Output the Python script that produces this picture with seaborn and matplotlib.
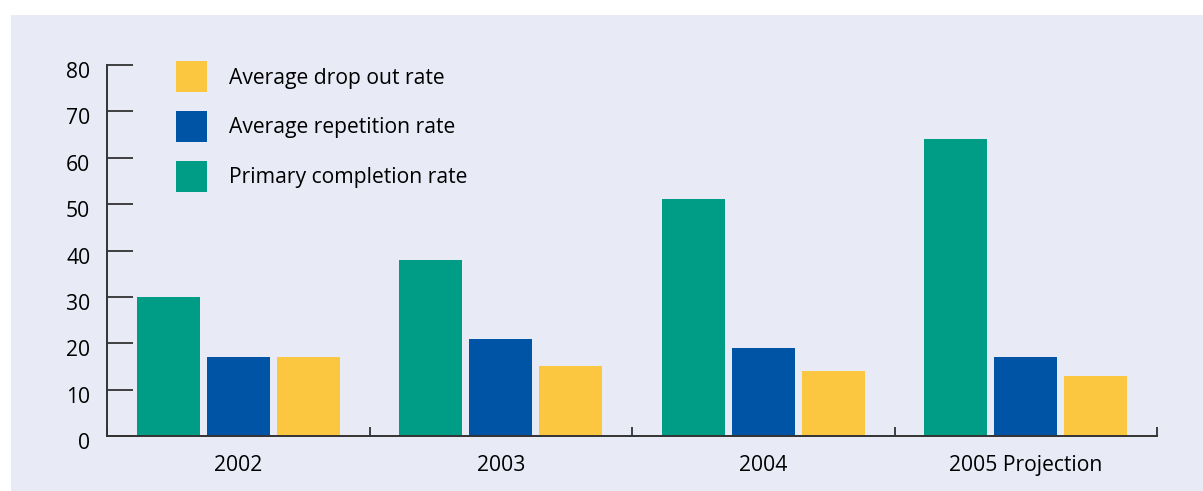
import pandas as pd
import matplotlib.pyplot as plt
import seaborn as sns
from matplotlib.patches import Rectangle, Patch
from matplotlib.ticker import FixedLocator
from matplotlib.transforms import ScaledTranslation

# Data
years = ["2002", "2003", "2004", "2005 Projection"]
completion = [30, 38, 51, 64]
repetition = [17, 21, 19, 17]
dropout = [17, 15, 14, 13]
series = ["Primary completion rate", "Average repetition rate", "Average drop out rate"]
colors = ["#009d86", "#0054a5", "#fbc640"]
BG = "#e8eaf6"

sns.set_theme(style="white")
plt.rcParams['font.family'] = ['Open Sans', 'DejaVu Sans']
plt.rcParams['text.color'] = "black"

df = pd.DataFrame({
    "Year": years * 3,
    "Rate": completion + repetition + dropout,
    "Series": [series[0]] * 4 + [series[1]] * 4 + [series[2]] * 4,
})

fig = plt.figure(figsize=(12.03, 4.91), dpi=100)
fig.patch.set_facecolor("white")
fig.patches.append(Rectangle((11 / 1203, 0), 1, 1 - 15 / 491, transform=fig.transFigure,
                             facecolor=BG, edgecolor="none", zorder=-10))

ax = fig.add_axes([107 / 1203, 55 / 491, 1050 / 1203, 371 / 491])
ax.set_facecolor(BG)
ax.patch.set_alpha(0)

sns.barplot(data=df, x="Year", y="Rate", hue="Series", hue_order=series,
            palette=colors, width=0.8, gap=0.1, ax=ax, legend=False, saturation=1,
            linewidth=0, edgecolor="none")

ax.set_xlim(-0.5, 3.5)
ax.set_ylim(0, 80)
ax.set_yticks(range(0, 81, 10))
ax.set_xlabel("")
ax.set_ylabel("")

for s in ["top", "right"]:
    ax.spines[s].set_visible(False)
for s in ["left", "bottom"]:
    ax.spines[s].set_color("#333333")
    ax.spines[s].set_linewidth(1.4)

ax.tick_params(axis="y", left=True, direction="in", length=19, width=1.2, color="#222222",
               labelsize=15.2, pad=12, labelcolor="black")
ax.tick_params(axis="x", which="major", bottom=False, length=0, labelsize=15.2, pad=14,
               labelcolor="black")
ax.xaxis.set_minor_locator(FixedLocator([-0.5, 0.5, 1.5, 2.5, 3.5]))
ax.tick_params(axis="x", which="minor", bottom=True, direction="in", length=6.5, width=1.2,
               color="#222222")

# y labels sit a little below their ticks in the original
shift = ScaledTranslation(0, -5 / 100, fig.dpi_scale_trans)
for lbl in ax.get_yticklabels():
    lbl.set_transform(lbl.get_transform() + shift)

handles = [Patch(facecolor=colors[i], edgecolor="none") for i in [2, 1, 0]]
labels = [series[i] for i in [2, 1, 0]]
ax.legend(handles, labels, loc="upper left", bbox_to_anchor=(0.0574, 1.033), frameon=False,
          fontsize=15.2, handlelength=1.47, handleheight=1.9, labelspacing=0.875,
          handletextpad=1.05, borderaxespad=0, labelcolor="black")

fig.savefig("out.png", dpi=100, facecolor=fig.get_facecolor())
